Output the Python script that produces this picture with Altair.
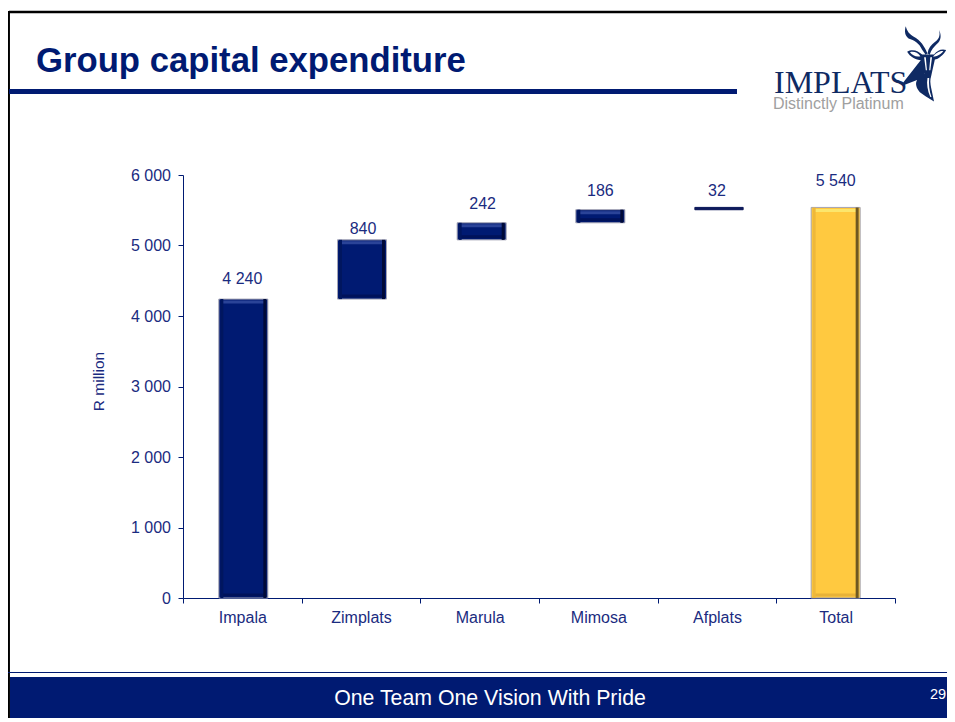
import altair as alt
import pandas as pd

categories = ["Impala", "Zimplats", "Marula", "Mimosa", "Afplats", "Total"]
starts = [0, 4240, 5080, 5322, 5508, 0]
ends = [4240, 5080, 5322, 5508, 5540, 5540]
labels = ["4 240", "840", "242", "186", "32", "5 540"]
label_at = [4526, 5236, 5591, 5776, 5771, 5916]
NAVY = "#001a72"
TEXT = "#1a2b80"
LOGO = "#0f2a63"
FONT = "Liberation Sans"

df = pd.DataFrame(dict(cat=categories, start=starts, end=ends, label=labels, at=label_at))
df["top"] = df[["start", "end"]].max(axis=1)
df["kind"] = ["blue"] * 5 + ["gold"]
thick = df[df["end"] - df["start"] > 100]
thin = df[df["end"] - df["start"] <= 100]

x_axis = alt.Axis(labelAngle=0, labelColor=TEXT, labelFont=FONT, labelFontSize=16, labelPadding=6,
                  tickColor=NAVY, domainColor=NAVY, tickSize=5, bandPosition=0, tickBand="extent", grid=False)
y_axis = alt.Axis(values=[0, 1000, 2000, 3000, 4000, 5000, 6000], labelExpr="replace(format(datum.value, ','), ',', ' ')",
                  labelColor=TEXT, labelFont=FONT, labelFontSize=16, labelPadding=7.5, tickColor=NAVY,
                  domainColor=NAVY, tickSize=5, grid=False, titleColor=TEXT, titleFont=FONT, titleFontSize=15.5,
                  titleFontWeight="normal", titleX=-77, titleY=206)
y_scale = alt.Scale(domain=[0, 6000], nice=False)
x = alt.X("cat:N", sort=categories, title=None, scale=alt.Scale(paddingInner=0, paddingOuter=0), axis=x_axis)
def yp(field):
    return alt.Y(field, title="R million", scale=y_scale, axis=y_axis)
def pal(a, b):
    return alt.condition("datum.kind == 'gold'", alt.value(b), alt.value(a))
def nudge(base=0):
    return alt.expr(f"{base} + (datum.cat === 'Total' ? 0 : datum.cat === 'Impala' || datum.cat === 'Zimplats' ? 1 : 2)")

base = alt.Chart(df)
bars = [
    base.mark_bar(width=49, stroke="#a4a4b4", strokeWidth=1, xOffset=nudge()).encode(
        x=x, y=yp("start:Q"), y2="end:Q", color=pal(NAVY, "#ffc940")),
    alt.Chart(thin).mark_bar(width=48, stroke="#0e1a5c", strokeWidth=1, color="#0e1a5c", xOffset=nudge()).encode(
        x=x, y=yp("start:Q"), y2="end:Q"),
]
b2 = alt.Chart(thick)
def vstrip(off, w, a, b):
    return b2.mark_bar(width=w, xOffset=nudge(off)).encode(x=x, y=yp("start:Q"), y2="end:Q", color=pal(a, b))
def htick(field, off, size, th, a, b):
    return b2.mark_tick(size=size, thickness=th, yOffset=off, opacity=1, xOffset=nudge()).encode(
        x=x, y=yp(field), color=pal(a, b))

bevel = [
    htick("top:Q", 3, 42, 3, "#2a4398", "#fce66c"),
    htick("start:Q", -3, 42, 3, "#00125a", "#e8b238"),
    vstrip(-21.5, 3, "#00165f", "#eeb83a"),
    vstrip(21.5, 3, "#000a38", "#6e5822"),
]
label_nudge = alt.expr("datum.cat === 'Zimplats' || datum.cat === 'Mimosa' ? 2 : datum.cat === 'Marula' ? 3 : 0")
text = base.mark_text(font=FONT, fontSize=16, color=TEXT, xOffset=label_nudge).encode(x=x, y=yp("at:Q"), text="label:N")

one = pd.DataFrame({"v": [0]})
def pxrule(x1, x2, y1, y2, color, w):
    return alt.Chart(one).mark_rule(color=color, strokeWidth=w, clip=False).encode(
        x=alt.value(x1), x2=alt.value(x2), y=alt.value(y1), y2=alt.value(y2))
def pxrect(x1, x2, y1, y2, color):
    return alt.Chart(one).mark_rect(color=color, clip=False).encode(
        x=alt.value(x1), x2=alt.value(x2), y=alt.value(y1), y2=alt.value(y2))
def pxtext(s, px, py, size, color, font=FONT, weight="normal", align="left"):
    return alt.Chart(one).mark_text(text=s, font=font, fontSize=size, fontWeight=weight, color=color, align=align,
                                    baseline="alphabetic", clip=False).encode(x=alt.value(px), y=alt.value(py))

OX, OY = 175, 167  # plot-area origin inside the canvas
def X(v): return v - 8 - OX
def Y(v): return v - 8 - OY

antelope = ("M45 22 C40 40 42 55 55 65 C75 72 92 80 103 105 L115 122 L122 118 C112 95 98 70 72 58 C58 50 50 40 45 22 Z "
            "M163 35 C168 55 162 68 148 78 C135 88 125 100 122 118 L130 122 C135 105 145 95 155 85 C170 72 172 55 163 35 Z "
            "M50 112 C70 100 90 110 103 122 L145 122 C155 108 172 100 188 106 C178 125 160 138 148 140 L140 175 L135 198 L115 198 L107 170 L100 142 C80 140 60 130 50 112 Z "
            "M112 190 L135 198 C130 212 132 225 135 240 L145 288 L115 270 L95 255 C82 240 78 225 85 212 L35 232 L32 226 L100 140 L110 170 Z")
antelope_light = ("M60 114 C72 110 88 115 97 128 C82 132 68 125 60 114 Z "
                  "M178 110 C165 108 150 118 142 130 C155 130 170 122 178 110 Z "
                  "M110 132 L116 132 L120 178 L116 178 Z M138 132 L132 132 L128 178 L132 178 Z "
                  "M122 205 C118 225 122 250 132 272 L136 272 C128 250 126 225 128 205 Z")

def emblem(path, color):
    return alt.Chart(one).mark_point(shape=path, size=0.32, filled=True, color=color, opacity=1, clip=False).encode(
        x=alt.value(X(893)), y=alt.value(Y(20)))

deco = [
    pxrule(X(9), X(955), Y(12), Y(12), "#000000", 2.5),
    pxrule(X(8.7), X(8.7), Y(11), Y(722), "#000000", 2.5),
    pxrect(X(9), X(737), Y(89), Y(94), NAVY),
    pxrule(X(8), X(955), Y(672.5), Y(672.5), NAVY, 1),
    pxrect(X(10), X(955), Y(677), Y(718), NAVY),
    pxtext("Group capital expenditure", X(36), Y(72), 34.7, NAVY, weight="bold"),
    pxtext("IMPLATS", X(774), Y(93), 32, LOGO, font="Liberation Serif"),
    pxtext("Distinctly Platinum", X(773), Y(108.5), 16, "#a0a0a0"),
    emblem(antelope, LOGO),
    emblem(antelope_light, "#ffffff"),
    pxtext("One Team One Vision With Pride", X(490), Y(705), 21.3, "#ffffff", align="center"),
    pxtext("29", X(930), Y(699), 14.5, "#ffffff"),
]

chart = alt.layer(*deco, *bars, *bevel, text).properties(
    width=712, height=423,
    padding={"left": OX, "top": OY, "right": 939 - OX - 712, "bottom": 710 - OY - 423},
    autosize=alt.AutoSizeParams(type="none"),
    background="#ffffff",
).configure_view(stroke=None)

chart.save("out.html", embed_options={"renderer": "svg", "actions": False})
